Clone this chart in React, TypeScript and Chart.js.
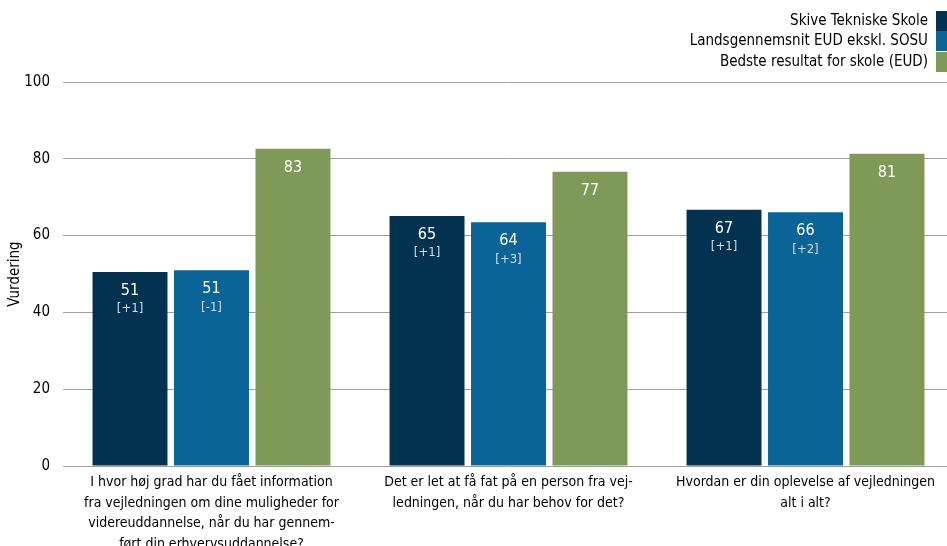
import React, { useEffect, useRef } from "react";
import { Chart, registerables } from "chart.js";

Chart.register(...registerables);

const categories: string[][] = [
  [
    "I hvor høj grad har du fået information",
    "fra vejledningen om dine muligheder for",
    "videreuddannelse, når du har gennem-",
    "ført din erhvervsuddannelse?",
  ],
  ["Det er let at få fat på en person fra vej-", "ledningen, når du har behov for det?"],
  ["Hvordan er din oplevelse af vejledningen", "alt i alt?"],
];

const seriesNames = [
  "Skive Tekniske Skole",
  "Landsgennemsnit EUD ekskl. SOSU",
  "Bedste resultat for skole (EUD)",
];

const skiveValues = [50.5, 65.1, 66.7];
const landsValues = [51.0, 63.5, 66.1];
const bedsteValues = [82.6, 76.6, 81.3];

const skiveDeltas = ["[+1]", "[+1]", "[+1]"];
const landsDeltas = ["[-1]", "[+3]", "[+2]"];
const bedsteDeltas = ["", "", ""];

const yMin = 0;
const yMax = 100;
const yStep = 20;

const FONT = "'DejaVu Sans Condensed', 'DejaVu Sans', sans-serif";
const COLORS = ["#02324f", "#0a6497", "#7f9a58"];

const deltaSets = [skiveDeltas, landsDeltas, bedsteDeltas];

const labelPlugin = {
  id: "barLabels",
  afterDatasetsDraw(chart: any) {
    const ctx = chart.ctx;
    ctx.save();
    ctx.textAlign = "center";
    ctx.textBaseline = "middle";
    chart.data.datasets.forEach((ds: any, di: number) => {
      const meta = chart.getDatasetMeta(di);
      meta.data.forEach((bar: any, i: number) => {
        const v = ds.data[i];
        ctx.fillStyle = "#ffffff";
        ctx.font = `16px ${FONT}`;
        ctx.fillText(String(Math.round(v)), bar.x, bar.y + 19);
        const d = deltaSets[di][i];
        if (d) {
          ctx.fillStyle = "#d4dde6";
          ctx.font = `13px ${FONT}`;
          ctx.fillText(d, bar.x, bar.y + 37);
        }
      });
    });
    ctx.restore();
  },
};

const legendPlugin = {
  id: "customLegend",
  afterDraw(chart: any) {
    const ctx = chart.ctx;
    ctx.save();
    ctx.font = `15px ${FONT}`;
    ctx.textAlign = "right";
    ctx.textBaseline = "middle";
    const boxX = 936;
    const boxW = 11;
    const tops = [11, 31, 52];
    const h = 20;
    chart.data.datasets.forEach((ds: any, i: number) => {
      ctx.fillStyle = ds.backgroundColor;
      ctx.fillRect(boxX, tops[i], boxW, h);
      ctx.fillStyle = "#000000";
      ctx.fillText(ds.label, 928, tops[i] + h / 2 + 0.5);
    });
    ctx.restore();
  },
};

export default function App() {
  const ref = useRef<HTMLCanvasElement | null>(null);

  useEffect(() => {
    if (!ref.current) return;
    const chart = new Chart(ref.current, {
      type: "bar",
      data: {
        labels: categories,
        datasets: [
          { label: seriesNames[0], data: skiveValues, backgroundColor: COLORS[0] },
          { label: seriesNames[1], data: landsValues, backgroundColor: COLORS[1] },
          { label: seriesNames[2], data: bedsteValues, backgroundColor: COLORS[2] },
        ],
      },
      options: {
        responsive: false,
        animation: false,
        events: [],
        layout: { padding: { top: 82, left: 0, right: 1, bottom: 0 } },
        datasets: {
          bar: { categoryPercentage: 0.823, barPercentage: 0.92 },
        },
        plugins: {
          legend: { display: false },
          tooltip: { enabled: false },
        },
        scales: {
          x: {
            grid: { display: false },
            border: { display: false },
            ticks: {
              color: "#000000",
              font: { family: FONT, size: 14, lineHeight: 1.48 },
              maxRotation: 0,
              autoSkip: false,
              padding: -2,
            },
            afterFit(scale: any) {
              scale.height = 80;
            },
          },
          y: {
            min: yMin,
            max: yMax,
            ticks: {
              stepSize: yStep,
              color: "#000000",
              font: { family: FONT, size: 15 },
              padding: 13,
            },
            grid: { color: "#a0a0a0", lineWidth: 1, drawTicks: false },
            border: { display: false },
            title: {
              display: true,
              text: "Vurdering",
              color: "#000000",
              font: { family: FONT, size: 15 },
              padding: { top: 6, bottom: 0 },
            },
            afterFit(scale: any) {
              scale.width = 63;
            },
          },
        },
      },
      plugins: [labelPlugin, legendPlugin],
    });
    return () => chart.destroy();
  }, []);

  return (
    <div
      style={{
        position: "fixed",
        left: 0,
        top: 0,
        width: 947,
        height: 546,
        overflow: "hidden",
        background: "#ffffff",
      }}
    >
      <canvas ref={ref} width={955} height={546} style={{ display: "block" }} />
    </div>
  );
}
